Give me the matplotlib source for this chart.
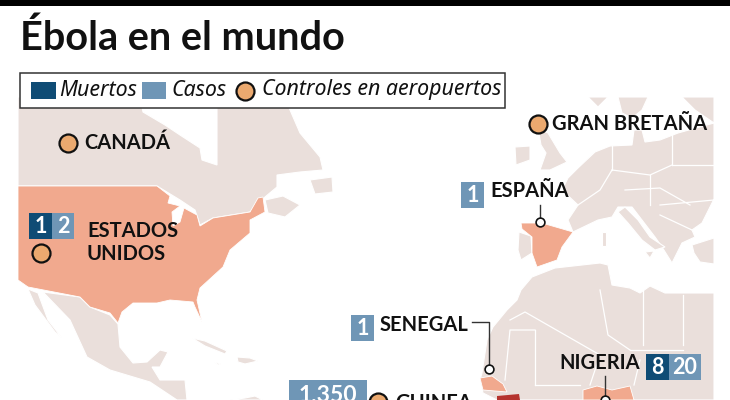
import matplotlib
matplotlib.use("Agg")
import matplotlib.pyplot as plt
from matplotlib.patches import Polygon, Rectangle

TITLE = "Ébola en el mundo"
LEGEND_LABELS = ["Muertos", "Casos", "Controles en aeropuertos"]
COUNTRY_LABELS = ["CANADÁ", "GRAN BRETAÑA", "ESPAÑA", "ESTADOS\nUNIDOS", "SENEGAL", "NIGERIA", "GUINEA"]
ESTADOS_UNIDOS = [1, 2]   # muertos, casos
ESPANA_CASOS = [1]
SENEGAL_CASOS = [1]
NIGERIA = [8, 20]         # muertos, casos
GUINEA_CASOS = ["1.350"]

PALE = "#eadfdb"; ORANGE = "#f1a98e"; DARK = "#0f4c75"; LIGHT = "#6f96b6"
AIR = "#eba96f"; RED = "#b5332e"; INK = "#111111"

# Map outlines (picture coordinates, x right / y down)
canada = [(18,97),(140,97),(143,112),(165,125),(180,135),(200,148),(202,160),(217,165),(217,107),(255,100),(287,103),(300,133),(320,157),(323,170),(300,172),(277,175),(277,187),(265,197),(250,212),(213,218),(200,225),(195,210),(180,200),(157,186),(18,186)]
maritimes = [(265,200),(283,196),(300,205),(285,217),(268,213)]
newfoundland = [(310,180),(332,177),(333,192),(315,194)]
usa = [(18,186),(157,186),(170,196),(168,203),(180,206),(172,212),(173,226),(180,222),(184,208),(197,215),(200,226),(213,218),(250,212),(258,198),(263,197),(265,212),(250,220),(250,233),(230,250),(223,267),(200,288),(197,300),(202,322),(195,307),(193,302),(170,300),(157,303),(133,303),(122,312),(118,323),(110,313),(90,307),(80,297),(28,287),(18,280)]
mexico = [(43,292),(80,297),(90,307),(110,315),(118,324),(120,347),(133,363),(147,362),(160,350),(168,352),(160,367),(152,367),(160,380),(185,380),(187,400),(177,400),(150,382),(110,370),(87,357),(70,320)]
baja = [(28,289),(38,293),(48,320),(62,338),(55,332),(35,305)]
cuba = [(192,338),(205,341),(227,351),(225,354),(205,346)]
hispaniola = [(237,357),(250,358),(258,361),(245,364),(238,362)]
jamaica = [(214,362),(221,364),(218,365)]
south_am = [(230,400),(245,398),(255,396),(263,400)]
ireland = [(515,147),(530,146),(530,160),(516,165)]
britain = [(538,128),(548,133),(560,153),(567,162),(550,170),(540,170),(546,153),(541,145)]
europe = [(568,178),(578,168),(595,152),(610,146),(632,145),(634,130),(642,130),(645,142),(660,140),(678,133),(714,123),(714,199),(702,223),(692,230),(695,237),(682,243),(672,263),(662,247),(655,237),(632,207),(618,207),(612,217),(598,220),(573,232),(568,220),(578,205),(562,190)]
italy = [(625,207),(638,220),(650,237),(665,247),(655,250),(642,240),(628,223),(618,212)]
sicily = [(645,252),(654,251),(650,258)]
sardinia = [(602,232),(606,232),(606,246),(602,246)]
turkey = [(692,245),(714,238),(714,264),(700,262),(694,253)]
portugal = [(519,232),(531,236),(532,253),(521,260),(518,250)]
spain = [(521,223),(542,223),(573,232),(562,247),(557,260),(537,267),(532,253),(532,237),(522,229)]
scand_a = [(588,97),(608,97),(598,107)]
scand_b = [(618,97),(648,97),(642,110),(632,118),(622,113)]
scand_c = [(682,97),(714,97),(714,123),(695,110)]
africa = [(521,290),(532,277),(555,268),(600,263),(608,265),(612,285),(630,288),(640,293),(650,286),(665,293),(714,293),(714,400),(497,400),(483,393),(480,380),(482,373),(487,340),(493,327),(507,310),(517,300)]
senegal = [(480,378),(492,376),(503,384),(507,392),(483,390)]
guinea = [(497,396),(519,394),(520,400),(497,400)]
nigeria = [(583,390),(597,386),(612,390),(630,386),(634,400),(583,400)]

PALE_SHAPES = [canada, maritimes, newfoundland, mexico, baja, cuba, hispaniola, jamaica,
               south_am, ireland, britain, europe, italy, sicily, sardinia, turkey, portugal,
               scand_a, scand_b, scand_c, africa]
ORANGE_SHAPES = [usa, spain, senegal, nigeria]
BORDERS = [
    [(578,205),(600,190),(612,170)], [(612,170),(612,146)], [(612,170),(650,175),(672,165)], [(672,165),(672,133)],
    [(672,165),(714,165)], [(625,190),(660,188),(690,205)], [(650,175),(650,205)], [(660,205),(714,200)],
    [(660,215),(692,230)], [(510,320),(525,312),(600,355)], [(600,290),(608,335),(630,350)],
    [(643,290),(643,345)], [(683,295),(683,345)], [(630,350),(683,350)], [(535,330),(535,385)], [(535,330),(510,330),(505,380)],
    [(535,385),(580,385)], [(600,355),(590,385)], [(634,385),(640,360)],
]

BOLD = ["Lato", "DejaVu Sans"]
plt.rcParams["font.family"] = ["Noto Sans", "DejaVu Sans"]
fig = plt.figure(figsize=(7.3, 4.0), dpi=100)
ax = fig.add_axes([0, 0, 1, 1])
ax.set_xlim(0, 730); ax.set_ylim(400, 0); ax.axis("off")

ax.add_patch(Rectangle((0, 0), 730, 6, fc="black", ec="none", zorder=5))
ax.text(20, 50, TITLE, fontsize=28.5, fontweight="bold", family=BOLD, color=INK, zorder=6)

for s in PALE_SHAPES:
    ax.add_patch(Polygon(s, closed=True, fc=PALE, ec="white", lw=0.8, zorder=1))
for b in BORDERS:
    ax.plot(*zip(*b), color="white", lw=0.9, zorder=2)
for s in ORANGE_SHAPES:
    ax.add_patch(Polygon(s, closed=True, fc=ORANGE, ec="white", lw=0.6, zorder=3))
ax.add_patch(Polygon(guinea, closed=True, fc=RED, ec="none", zorder=3))

# legend
ax.add_patch(Rectangle((20, 73), 485, 35, fc="white", ec="#333333", lw=1.1, zorder=6))
ax.add_patch(Rectangle((31, 82), 25, 17, fc=DARK, ec="none", zorder=7))
ax.add_patch(Rectangle((142, 82), 24, 17, fc=LIGHT, ec="none", zorder=7))
for x, t in zip([59, 171, 262], LEGEND_LABELS):
    ax.text(x, 90, t, fontsize=15.4, style="italic", color=INK, va="center", zorder=7)

def air(x, y, r=9):
    ax.scatter([x], [y], s=(r*2*0.72)**2, fc=AIR, ec=INK, lw=1.6, zorder=8)
def pin(pts):
    ax.plot(*zip(*pts), color="#333333", lw=1.0, zorder=7)
    ax.scatter([pts[-1][0]], [pts[-1][1]], s=40, fc="white", ec=INK, lw=1.2, zorder=8)
def badge(x0, x1, y0, y1, val, col, size=15.5):
    ax.add_patch(Rectangle((x0, y0), x1-x0, y1-y0, fc=col, ec="none", zorder=7))
    ax.text((x0+x1)/2, (y0+y1)/2+0.5, str(val), fontsize=size, fontweight="bold", family=BOLD, color="white", ha="center", va="center", zorder=8)
def label(x, y, t, **kw):
    ax.text(x, y, t, fontsize=14.5, fontweight="bold", family=BOLD, color=INK, va="center", zorder=8, **kw)

air(245, 91)
air(68, 143); label(84, 143, COUNTRY_LABELS[0])
air(538, 124); label(552, 124, COUNTRY_LABELS[1])
badge(461, 484, 182, 208, ESPANA_CASOS[0], LIGHT); label(490, 191, COUNTRY_LABELS[2])
pin([(540, 205), (540, 222)])
badge(29, 52, 213, 239, ESTADOS_UNIDOS[0], DARK); badge(52, 74, 213, 239, ESTADOS_UNIDOS[1], LIGHT)
air(41, 253)
for y, t in zip([231, 254], COUNTRY_LABELS[3].split("\n")):
    label(87, y, t)
badge(351, 374, 315, 341, SENEGAL_CASOS[0], LIGHT); label(380, 325, COUNTRY_LABELS[4])
pin([(472, 322), (489, 322), (489, 369)])
label(559, 363, COUNTRY_LABELS[5])
badge(646, 669, 354, 380, NIGERIA[0], DARK); badge(669, 701, 354, 380, NIGERIA[1], LIGHT)
pin([(605, 376), (605, 400)])
badge(289, 367, 380, 410, GUINEA_CASOS[0], LIGHT, size=16.5)
air(378, 402); label(395, 403, COUNTRY_LABELS[6])

fig.savefig("out.png", dpi=100)
